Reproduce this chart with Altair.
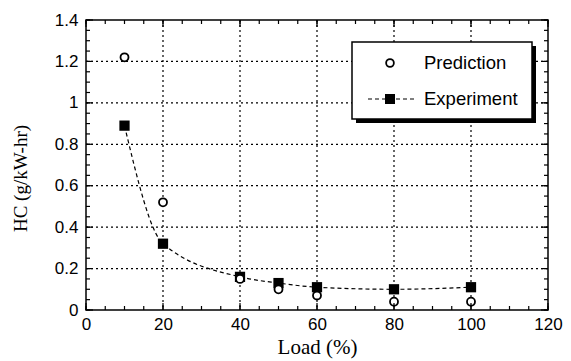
import altair as alt
import pandas as pd

load = [10, 20, 40, 50, 60, 80, 100]
prediction = [1.22, 0.52, 0.15, 0.10, 0.07, 0.04, 0.04]
experiment = [0.89, 0.32, 0.16, 0.13, 0.11, 0.10, 0.11]

x_major = [0, 20, 40, 60, 80, 100, 120]
y_major = [0, 0.2, 0.4, 0.6, 0.8, 1.0, 1.2, 1.4]
x_minor = [v for v in range(0, 121, 5)]
y_minor = [round(i * 0.05, 2) for i in range(0, 29)]

W, H = 462, 290
XS = alt.Scale(domain=[0, 120], nice=False, zero=False)
YS = alt.Scale(domain=[0, 1.4], nice=False, zero=False)

XA = alt.Axis(values=x_major, title="Load (%)", domain=False, ticks=False,
              grid=False, labelFont="Liberation Sans", labelFontSize=17,
              labelColor="black", labelPadding=6, titleFont="Liberation Serif",
              titleFontSize=21, titleFontWeight="normal", titleColor="black",
              titlePadding=4, labelFlush=False)
YA = alt.Axis(values=y_major, title="HC (g/kW-hr)", domain=False, ticks=False,
              grid=False, labelFont="Liberation Sans", labelFontSize=17,
              labelColor="black", labelPadding=8, titleFont="Liberation Serif",
              titleFontSize=19, titleFontWeight="normal", titleColor="black",
              titlePadding=24, titleY=158, labelFlush=False, format="~g")

def X(f):
    return alt.X(f, scale=XS, axis=XA)

def Y(f):
    return alt.Y(f, scale=YS, axis=YA)

df = pd.DataFrame({"load": load, "pred": prediction, "exp": experiment})
one = pd.DataFrame({"a": [0]})

# gridlines
xg = alt.Chart(pd.DataFrame({"v": x_major[1:-1]})).mark_rule(
    color="black", strokeDash=[2, 3], strokeWidth=1.2).encode(x=X("v:Q"))
yg = alt.Chart(pd.DataFrame({"v": y_major[1:-1]})).mark_rule(
    color="black", strokeDash=[2, 3], strokeWidth=1.2).encode(y=Y("v:Q"))

exp_line = alt.Chart(df).mark_line(
    color="black", strokeDash=[4, 3], strokeWidth=1.2, interpolate="monotone").encode(
    x=X("load:Q"), y=Y("exp:Q"))
exp_pts = alt.Chart(df).mark_point(
    shape="square", filled=True, color="black", size=105, opacity=1).encode(
    x=X("load:Q"), y=Y("exp:Q"))
pred_pts = alt.Chart(df).mark_point(
    shape="circle", filled=True, fill="white", stroke="black", strokeWidth=1.8,
    size=64, opacity=1).encode(
    x=X("load:Q"), y=Y("pred:Q"))

def xticks(vals, length):
    d = pd.DataFrame({"v": vals})
    b = alt.Chart(d).mark_rule(color="black", strokeWidth=1.2).encode(
        x=X("v:Q"), y=alt.value(H), y2=alt.value(H - length))
    t = alt.Chart(d).mark_rule(color="black", strokeWidth=1.2).encode(
        x=X("v:Q"), y=alt.value(0), y2=alt.value(length))
    return [b, t]

def yticks(vals, length):
    d = pd.DataFrame({"v": vals})
    l = alt.Chart(d).mark_rule(color="black", strokeWidth=1.2).encode(
        y=Y("v:Q"), x=alt.value(0), x2=alt.value(length))
    r = alt.Chart(d).mark_rule(color="black", strokeWidth=1.2).encode(
        y=Y("v:Q"), x=alt.value(W), x2=alt.value(W - length))
    return [l, r]

ticks = xticks(x_minor, 4) + xticks(x_major, 7) + yticks(y_minor, 4) + yticks(y_major, 7)

frame = alt.Chart(one).mark_rect(fill=None, stroke="black", strokeWidth=1.5).encode(
    x=alt.value(0), x2=alt.value(W), y=alt.value(0), y2=alt.value(H))

# legend
LX0, LX1, LY0, LY1 = 266, 446, 22, 99
shadow = alt.Chart(one).mark_rect(fill="black").encode(
    x=alt.value(LX0 + 4), x2=alt.value(LX1 + 4), y=alt.value(LY0 + 4), y2=alt.value(LY1 + 4))
box = alt.Chart(one).mark_rect(fill="white", stroke="black", strokeWidth=1.5).encode(
    x=alt.value(LX0), x2=alt.value(LX1), y=alt.value(LY0), y2=alt.value(LY1))
leg_c = alt.Chart(one).mark_point(shape="circle", filled=True, fill="white", stroke="black",
                                  strokeWidth=1.8, size=60, opacity=1).encode(
    x=alt.value(304), y=alt.value(43))
leg_l = alt.Chart(one).mark_rule(color="black", strokeDash=[4, 3], strokeWidth=1.2).encode(
    x=alt.value(282), x2=alt.value(328), y=alt.value(79))
leg_s = alt.Chart(one).mark_point(shape="square", filled=True, color="black", size=100,
                                  opacity=1).encode(x=alt.value(304), y=alt.value(79))
leg_t1 = alt.Chart(one).mark_text(align="left", baseline="middle", font="Liberation Sans",
                                  fontSize=18.5, color="black").encode(
    x=alt.value(338), y=alt.value(43), text=alt.value("Prediction"))
leg_t2 = alt.Chart(one).mark_text(align="left", baseline="middle", font="Liberation Sans",
                                  fontSize=18.5, color="black").encode(
    x=alt.value(338), y=alt.value(79), text=alt.value("Experiment"))

chart = alt.layer(
    xg, yg, exp_line, exp_pts, pred_pts, *ticks, frame,
    shadow, box, leg_c, leg_l, leg_s, leg_t1, leg_t2
).properties(
    width=W, height=H,
    padding={"left": 86, "top": 20, "right": 23, "bottom": 51},
    autosize=alt.AutoSizeParams(type="none"),
    background="white",
).configure_view(stroke=None)

chart.save("out.html", embed_options={"renderer": "svg", "actions": False})
